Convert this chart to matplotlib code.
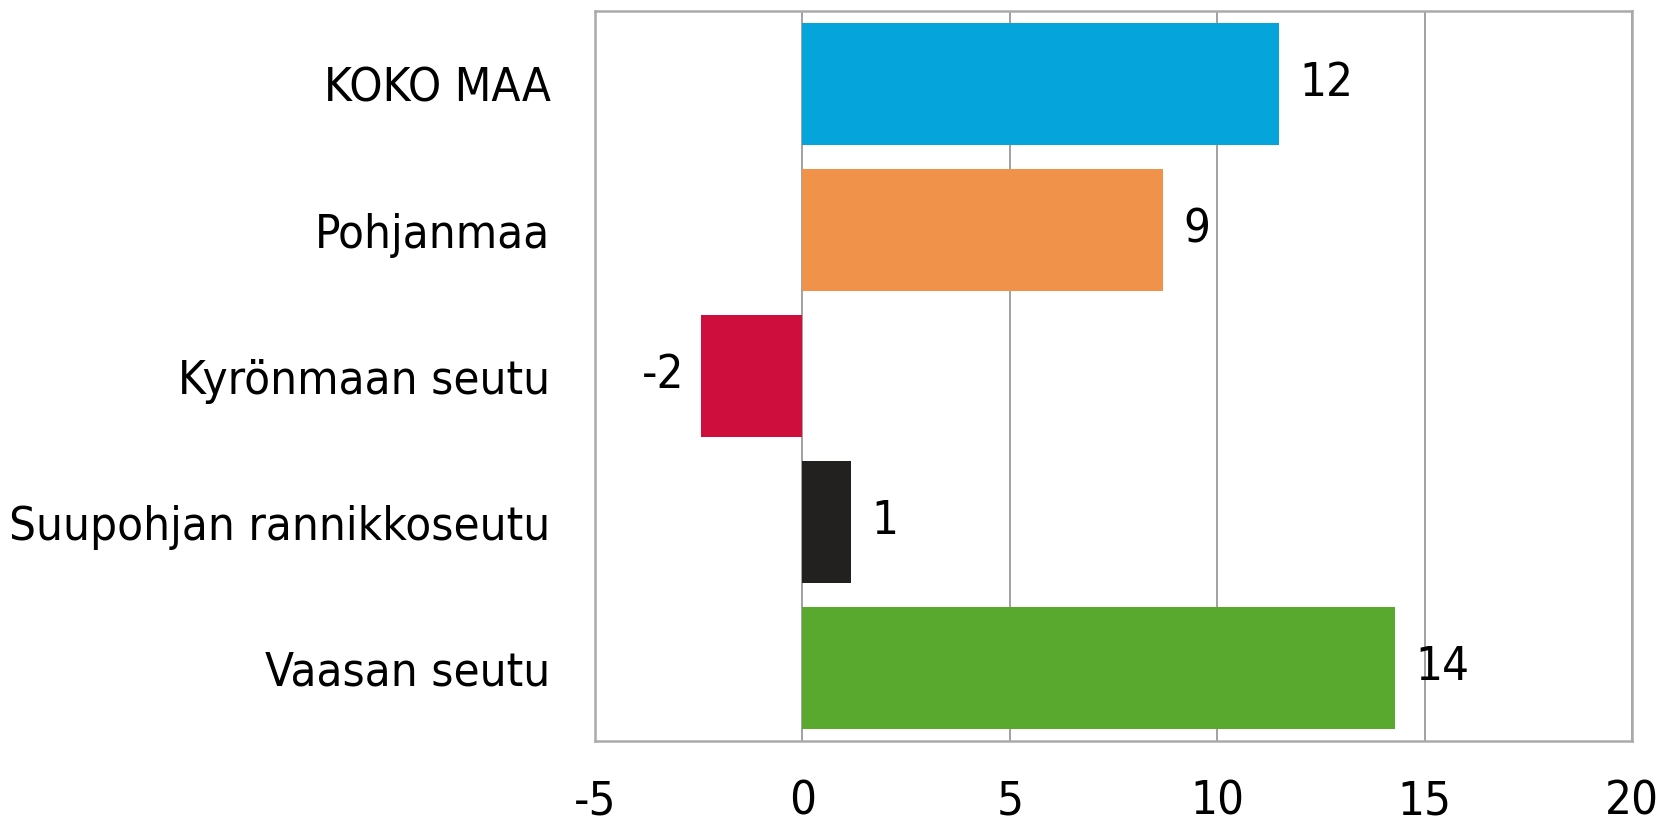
import numpy as np
import matplotlib
matplotlib.use('Agg')
import matplotlib.pyplot as plt

categories = ['KOKO MAA', 'Pohjanmaa', 'Kyrönmaan seutu', 'Suupohjan rannikkoseutu', 'Vaasan seutu']
values = [11.5, 8.7, -2.45, 1.17, 14.29]
labels = ['12', '9', '-2', '1', '14']
colors = ['#05A5DC', '#F0924A', '#CE0F3E', '#222120', '#58A92E']
x_ticks = [-5, 0, 5, 10, 15, 20]

plt.rcParams['font.family'] = ['DejaVu Sans']
plt.rcParams['font.stretch'] = 'condensed'

fig = plt.figure(figsize=(16.61, 8.24), dpi=100)
ax = fig.add_axes([595/1661, 1 - 741/824, (1632-595)/1661, (741-11)/824])

y = np.arange(len(categories))
ax.barh(y, values, height=0.83, color=colors, zorder=2)
ax.set_ylim(4.5, -0.5)
ax.set_xlim(-5, 20)
ax.set_xticks(x_ticks)
ax.set_xticklabels([str(t) for t in x_ticks], fontsize=34)
ax.set_yticks(y)
ax.set_yticklabels(categories, fontsize=34)
ax.tick_params(axis='both', length=0)
ax.tick_params(axis='x', pad=28)
ax.tick_params(axis='y', pad=32)
ax.grid(axis='x', color='#9a9a9a', linewidth=1.3, zorder=1)
for s in ax.spines.values():
    s.set_color('#aaaaaa')
    s.set_linewidth(1.8)

for yi, v, lab in zip(y, values, labels):
    if v >= 0:
        ax.annotate(lab, (v, yi), xytext=(20, 0), textcoords='offset pixels',
                    ha='left', va='center', fontsize=34)
    else:
        ax.annotate(lab, (v, yi), xytext=(-16, 0), textcoords='offset pixels',
                    ha='right', va='center', fontsize=34)

fig.savefig('out.png', dpi=100)
